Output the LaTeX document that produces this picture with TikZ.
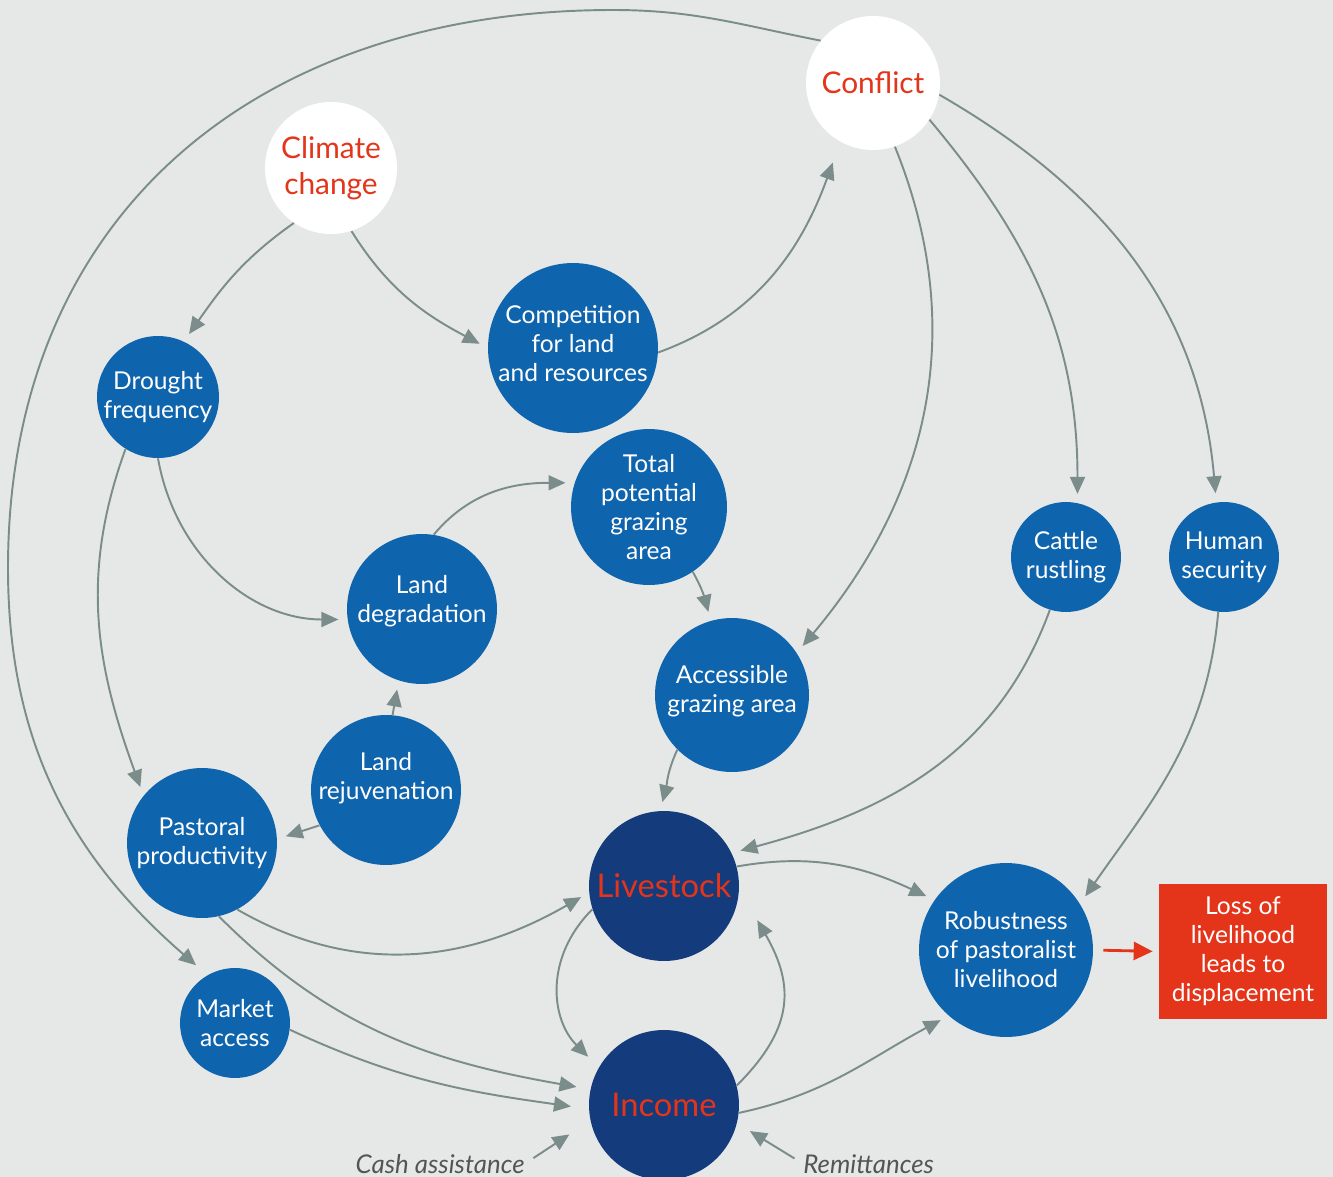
\documentclass[tikz,border=0pt]{standalone}
\usepackage{fontspec}
\setmainfont{Lato}
\usetikzlibrary{arrows.meta}
\definecolor{bgc}{HTML}{E6E8E7}
\definecolor{lineg}{HTML}{7B8D8A}
\definecolor{midblue}{HTML}{0F64AE}
\definecolor{navy}{HTML}{143B7B}
\definecolor{alert}{HTML}{E4341A}
\definecolor{txtgray}{HTML}{555555}

\begin{document}
\begin{tikzpicture}[x=0.02cm, y=0.02cm,
    blob/.style={circle, fill=midblue, text=white, inner sep=-2pt, align=center, font=\fontsize{14}{16.5}\selectfont},
    key/.style={circle, fill=white, text=alert, inner sep=-2pt, align=center, font=\fontsize{17}{20.5}\selectfont},
    core/.style={circle, fill=navy, text=alert, inner sep=-2pt, font=\fontsize{18.6}{22}\selectfont},
    arr/.style={draw=lineg, line width=1.1pt, -{Triangle[length=0.34cm,width=0.3cm]}, shorten >=0.18cm},
    note/.style={font=\itshape\fontsize{14.7}{17}\selectfont, text=txtgray, inner sep=0pt}
]
    \useasboundingbox (0,0) rectangle (1333,-1177);
    \fill[bgc] (0,0) rectangle (1333,-1177);

    % --- Drivers ---
    \node[key, minimum size=2.68cm] (conf) at (873,-83) {Conflict};
    \node[key, minimum size=2.64cm] (clim) at (331,-168) {Climate\\change};

    % --- Intermediate factors ---
    \node[blob, minimum size=3.4cm, text depth=0.2cm] (comp) at (573,-348) {Competition\\for land\\and resources};
    \node[blob, minimum size=2.44cm] (drought) at (158,-397) {Drought\\frequency};
    \node[blob, minimum size=3.12cm] (tpga) at (649,-507) {Total\\potential\\grazing\\area};
    \node[blob, minimum size=3.0cm, text depth=0.4cm] (ldeg) at (422,-609) {Land\\degradation};
    \node[blob, minimum size=3.08cm, text depth=0.25cm] (acc) at (732,-695) {Accessible\\grazing area};
    \node[blob, minimum size=2.2cm] (cattle) at (1066,-557) {Cattle\\rustling};
    \node[blob, minimum size=2.2cm] (human) at (1224,-557) {Human\\security};
    \node[blob, minimum size=3.0cm, text depth=0.56cm] (lrej) at (386,-790) {Land\\rejuvenation};
    \node[blob, minimum size=3.0cm] (past) at (202,-843) {Pastoral\\productivity};
    \node[blob, minimum size=2.2cm] (mkt) at (235,-1023) {Market\\access};
    \node[blob, minimum size=3.48cm] (rob) at (1006,-950) {Robustness\\of pastoralist\\livelihood};

    % --- Core ---
    \node[core, minimum size=3.0cm] (live) at (664,-886) {Livestock};
    \node[core, minimum size=3.0cm] (inc) at (664,-1105) {Income};

    % --- Outcome ---
    \node[fill=alert, text=white, minimum width=3.36cm, minimum height=2.7cm, align=center,
          font=\fontsize{14}{16.5}\selectfont] (loss) at (1243,-951.5) {Loss of\\livelihood\\leads to\\displacement};

    % --- External inputs ---
    \node[note, anchor=base east] (cash) at (525,-1173) {Cash assistance};
    \node[note, anchor=base west] (remit) at (803,-1173) {Remittances};

    \coordinate (topmid) at (613,-10);
    \coordinate (farleft) at (8,-568);

    % --- Links from the drivers ---
    \draw[arr, shorten >=0.3cm] (conf.141) to[out=169,in=0] (topmid)
        to[out=180,in=90,looseness=1.1] (farleft) to[out=-90,in=139] (mkt.120);
    \draw[arr] (clim.236) to[out=215,in=55] (drought.65);
    \draw[arr] (clim.-72) to[out=-58,in=152] (comp.180);
    \draw[arr, shorten >=0.44cm] (comp.-3) to[out=20,in=250] (conf.241);
    \draw[arr] (conf.-71) to[out=-68,in=50] (acc.33);
    \draw[arr] (conf.-33) to[out=-50,in=90] (cattle.78);
    \draw[arr] (conf.-10) to[out=-30,in=95] (human.98);

    % --- Land and grazing ---
    \draw[arr] (drought.-90) to[out=-80,in=180] (ldeg.188);
    \draw[arr] (drought.238) to[out=-110,in=110] (past.141);
    \draw[arr] (ldeg.81) to[out=50,in=180] (tpga.162);
    \draw[arr] (tpga.-56) to[out=-60,in=105] (acc.106);
    \draw[arr] (lrej.85) -- (ldeg.252);
    \draw[arr] (lrej.208) -- (past.3);
    \draw[arr] (acc.225) to[out=245,in=75] (live.93);
    \draw[arr] (cattle.253) to[out=-110,in=15] (live.26);
    \draw[arr] (human.-96) to[out=-95,in=55] (rob.32);

    % --- Livelihood loop ---
    \draw[arr] (past.-62) to[out=-30,in=210] (live.185);
    \draw[arr, shorten >=0.28cm] (past.-77) to[out=-45,in=170] (inc.168);
    \draw[arr, shorten >=0.36cm] (mkt.-7) to[out=-25,in=172] (inc.183);
    \draw[arr, shorten >=0.3cm] (live.198) to[out=225,in=135,looseness=1.1] (inc.150);
    \draw[arr, shorten >=0cm] (inc.15) to[out=45,in=-60,looseness=1.2] ([xshift=0.45cm,yshift=-0.17cm]live.-20);
    \draw[arr] (live.15) to[out=10,in=155] (rob.145);
    \draw[arr] (inc.-6) to[out=12,in=208] (rob.229);
    \draw[arr, shorten <=0.2cm, shorten >=0.5cm] (cash.east) -- (inc.192);
    \draw[arr, shorten <=0.2cm, shorten >=0.3cm] (remit.west) -- (inc.-14);

    % --- Displacement ---
    \draw[draw=alert, line width=1.6pt, -{Triangle[length=0.38cm,width=0.36cm]},
          shorten <=0.2cm, shorten >=0.12cm] (rob.east) -- (loss.west);
\end{tikzpicture}
\end{document}
